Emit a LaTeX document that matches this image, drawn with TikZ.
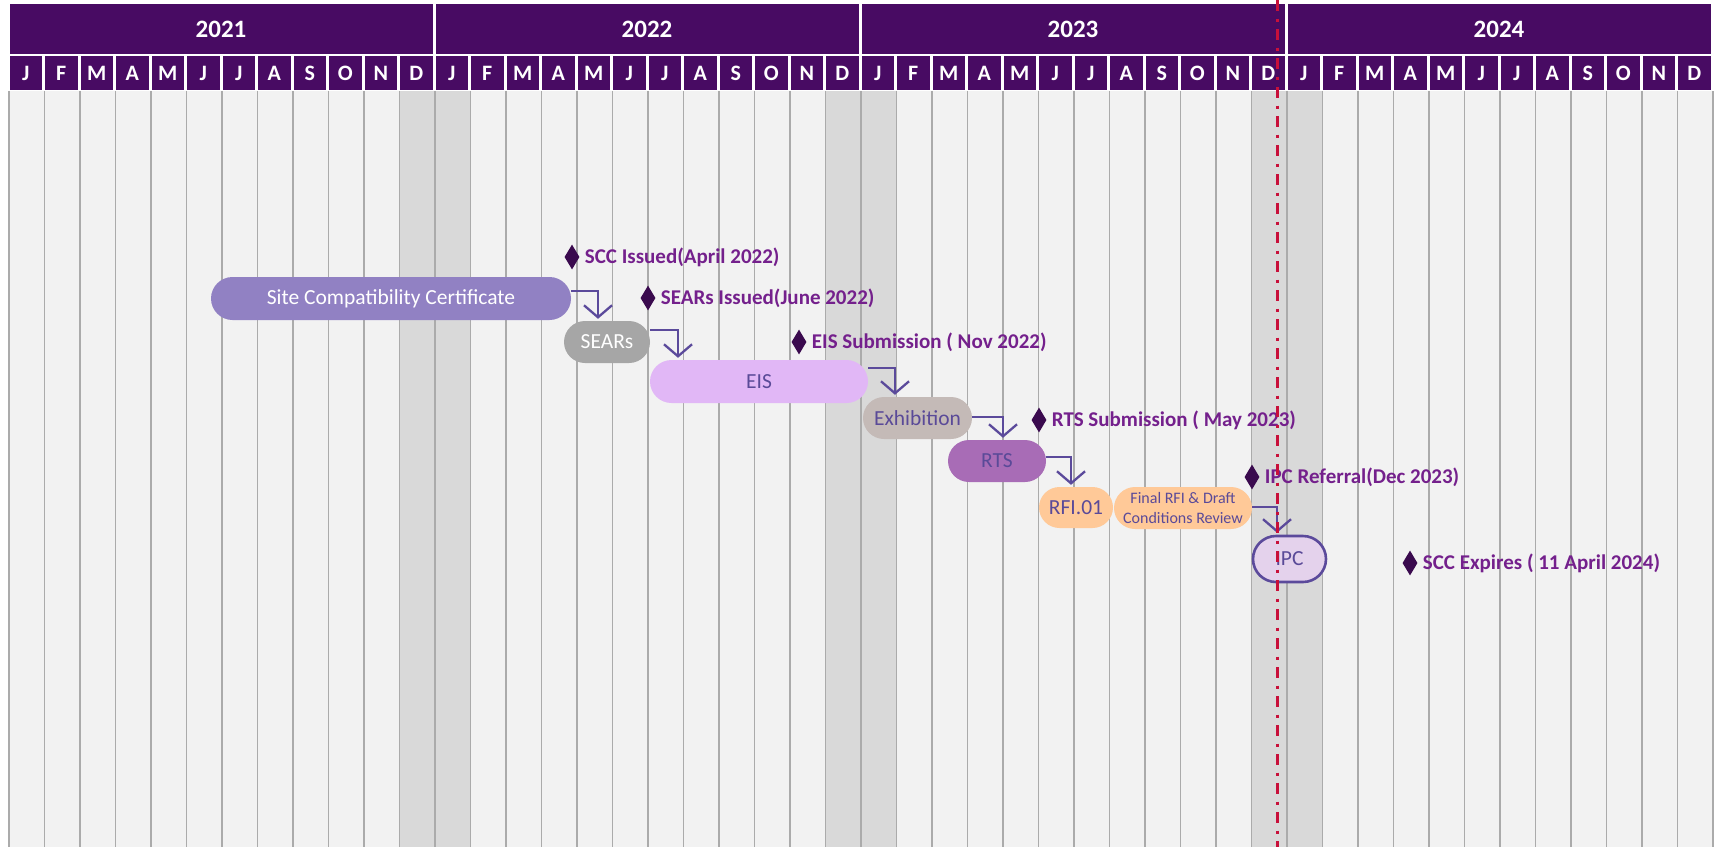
\documentclass[tikz,border=0pt]{standalone}
\usepackage{fontspec}
\setmainfont{Carlito}
\usetikzlibrary{arrows.meta,shapes.geometric,shapes.misc}
\definecolor{hdr}{HTML}{480B63}
\definecolor{bodybg}{HTML}{F2F2F2}
\definecolor{shadecol}{HTML}{D9D9D9}
\definecolor{gridline}{HTML}{ABABAB}
\definecolor{flowc}{HTML}{5B4A9B}
\definecolor{txtc}{HTML}{5A4A98}
\definecolor{mstxt}{HTML}{74208C}
\definecolor{msdia}{HTML}{3A0A4E}
\definecolor{todayc}{HTML}{C8103A}
\definecolor{sccc}{HTML}{9181C3}
\definecolor{searsc}{HTML}{A6A6A6}
\definecolor{eisc}{HTML}{E1B7F6}
\definecolor{exhc}{HTML}{C4BAB7}
\definecolor{rtsc}{HTML}{A86CB6}
\definecolor{peach}{HTML}{FFC998}
\definecolor{ipcc}{HTML}{E4D2EC}
\tikzset{
  task/.style={rounded rectangle, inner sep=0pt, minimum height=42pt,
    font=\fontsize{21.5}{25}\selectfont, text=txtc},
  flow/.style={draw=flowc, line width=2.3pt, -{Straight Barb[length=12pt,width=28pt]}},
  msdiamond/.style={diamond, fill=msdia, inner sep=0pt, minimum width=15pt, minimum height=25pt},
  mslabel/.style={anchor=west, inner sep=3pt, text=mstxt, font=\fontsize{21}{25}\selectfont\bfseries},
  yearcell/.style={fill=hdr},
  monthtxt/.style={text=white, font=\fontsize{22}{26}\selectfont\bfseries},
  yeartxt/.style={text=white, font=\fontsize{25}{30}\selectfont\bfseries},
}
\begin{document}
\begin{tikzpicture}[x=1pt,y=-1pt]
\useasboundingbox (0,0) rectangle (1721,847);
\fill[white] (0,0) rectangle (1721,847);
% body
\fill[bodybg] (8,91) rectangle (1713,847);
\foreach \k in {11,23,35}{
  \fill[shadecol] ({9+\k*35.5},91) rectangle ({9+(\k+2)*35.5},847);
}
\foreach \k in {0,...,48}{
  \draw[gridline, line width=1.6pt] ({9+\k*35.5},91) -- ({9+\k*35.5},847);
}
% header
\foreach \yr [count=\i from 0] in {2021,2022,2023,2024}{
  \fill[yearcell] ({9+12*\i*35.5+0.5},4) rectangle ({9+12*(\i+1)*35.5-2.5},54);
  \node[yeartxt] (y\yr) at ({9+(12*\i+6)*35.5-1},29) {\yr};
  \foreach \m [count=\j from 0] in {J,F,M,A,M,J,J,A,S,O,N,D}{
    \pgfmathsetmacro{\kk}{12*\i+\j}
    \fill[yearcell] ({9+\kk*35.5+0.5},56) rectangle ({9+(\kk+1)*35.5-2.5},90);
    \node[monthtxt] (m\yr-\j) at ({9+(\kk+0.5)*35.5-1},73) {\m};
  }
}
% tasks
\node[task, fill=sccc, text=white, minimum width=360pt, minimum height=43pt] (scc) at (391,298.5) {Site Compatibility Certificate};
\node[task, fill=searsc, text=white, minimum width=86pt] (sears) at (607,342) {SEARs};
\node[task, fill=eisc, minimum width=218pt, minimum height=43pt] (eis) at (759,381.5) {EIS};
\node[task, fill=exhc, minimum width=109pt] (exh) at (917.5,418) {Exhibition};
\node[task, fill=rtsc, minimum width=98pt] (rts) at (997,461) {RTS};
\node[task, fill=peach, minimum width=74pt, minimum height=41pt] (rfi) at (1076,507.5) {RFI.01};
\node[task, fill=peach, minimum width=138pt, align=center, font=\fontsize{16}{20}\selectfont] (final) at (1183,508) {Final RFI \& Draft\\Conditions Review};
\node[task, fill=ipcc, draw=flowc, line width=2.6pt, minimum width=73pt, minimum height=46pt] (ipc) at (1289.5,559) {IPC};
% connectors
\draw[flow] ([yshift=7.5pt]scc.east) -| ([xshift=-9pt,yshift=2pt]sears.north);
\draw[flow] ([yshift=12pt]sears.east) -| ([xshift=-81pt,yshift=2pt]eis.north);
\draw[flow] ([yshift=13.5pt]eis.east) -| ([xshift=-22.5pt,yshift=2pt]exh.north);
\draw[flow] ([yshift=1pt]exh.east) -| ([xshift=6pt,yshift=2pt]rts.north);
\draw[flow] ([yshift=4pt]rts.east) -| ([xshift=-5pt,yshift=2pt]rfi.north);
\draw[flow] ([yshift=1pt]final.east) -| ([xshift=-12.5pt,yshift=2pt]ipc.north);
% milestones
\node[msdiamond] (d1) at (572,257) {};
\node[mslabel] (t1) at ([xshift=2pt]d1.east) {SCC Issued(April 2022)};
\node[msdiamond] (d2) at (648,298) {};
\node[mslabel] (t2) at ([xshift=2pt]d2.east) {SEARs Issued(June 2022)};
\node[msdiamond] (d3) at (799,342) {};
\node[mslabel] (t3) at ([xshift=2pt]d3.east) {EIS Submission ( Nov 2022)};
\node[msdiamond] (d4) at (1039,420) {};
\node[mslabel] (t4) at ([xshift=2pt]d4.east) {RTS Submission ( May 2023)};
\node[msdiamond] (d5) at (1252,477) {};
\node[mslabel] (t5) at ([xshift=2pt]d5.east) {IPC Referral(Dec 2023)};
\node[msdiamond] (d6) at (1410,563) {};
\node[mslabel] (t6) at ([xshift=2pt]d6.east) {SCC Expires ( 11 April 2024)};
% today line
\coordinate (todaytop) at (1277,0);
\coordinate (todaybot) at (1277,847);
\draw[todayc, line width=3pt, dash pattern=on 11pt off 7.5pt on 3pt off 7.5pt] (todaytop) -- (todaybot);
\end{tikzpicture}
\end{document}
